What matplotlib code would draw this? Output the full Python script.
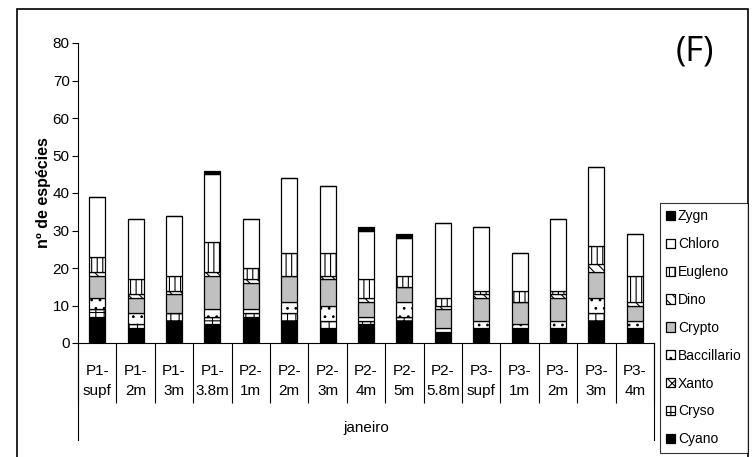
import numpy as np
import matplotlib
matplotlib.use("Agg")
import matplotlib.pyplot as plt
from matplotlib.patches import Rectangle
from matplotlib.transforms import blended_transform_factory

plt.rcParams['font.family'] = ['Liberation Sans Narrow', 'Liberation Sans', 'DejaVu Sans']
plt.rcParams['hatch.linewidth'] = 0.8

stations = ['P1-\nsupf', 'P1-\n2m', 'P1-\n3m', 'P1-\n3.8m', 'P2-\n1m', 'P2-\n2m', 'P2-\n3m',
            'P2-\n4m', 'P2-\n5m', 'P2-\n5.8m', 'P3-\nsupf', 'P3-\n1m', 'P3-\n2m', 'P3-\n3m', 'P3-\n4m']
month = 'janeiro'

# stacked from bottom to top
cyano   = [7, 4, 6, 5, 7, 6, 4, 5, 6, 3, 4, 4, 4, 6, 4]
cryso   = [2, 1, 2, 2, 1, 2, 2, 1, 1, 0, 0, 0, 0, 2, 0]
xanto   = [0, 0, 0, 0, 0, 0, 0, 0, 0, 0, 0, 0, 0, 0, 0]
bacc    = [3, 3, 0, 2, 1, 3, 4, 1, 4, 1, 2, 1, 2, 4, 2]
crypto  = [6, 4, 5, 9, 7, 7, 7, 4, 4, 5, 6, 6, 6, 7, 4]
dino    = [1, 1, 1, 1, 1, 0, 1, 1, 0, 1, 1, 0, 1, 2, 1]
eugleno = [4, 4, 4, 8, 3, 6, 6, 5, 3, 2, 1, 3, 1, 5, 7]
chloro  = [16, 16, 16, 18, 13, 20, 18, 13, 10, 20, 17, 10, 19, 21, 11]
zygn    = [0, 0, 0, 1, 0, 0, 0, 1, 1, 0, 0, 0, 0, 0, 0]

groups = ['Cyano', 'Cryso', 'Xanto', 'Baccillario', 'Crypto', 'Dino', 'Eugleno', 'Chloro', 'Zygn']
values = [cyano, cryso, xanto, bacc, crypto, dino, eugleno, chloro, zygn]
faces = ['black', 'white', 'white', 'white', '#c0c0c0', 'white', 'white', 'white', 'black']
hatches = [None, '++', 'xxx', '..', None, '\\\\\\', '|||', None, None]

fig = plt.figure(figsize=(7.53, 4.57), dpi=100)
ax = fig.add_axes([78/753, 1-343/457, 576/753, 300/457])

x = np.arange(len(stations))
bottom = np.zeros(len(stations))
bars = []
for name, v, fc, h in zip(groups, values, faces, hatches):
    b = ax.bar(x, v, 0.42, bottom=bottom, color=fc, edgecolor='black',
               linewidth=0.9, hatch=h, label=name)
    bars.append(b)
    bottom += np.array(v)

ax.set_xlim(-0.5, len(stations) - 0.5)
ax.set_ylim(0, 80)
ax.set_yticks(range(0, 81, 10))
ax.tick_params(axis='y', length=4, width=0.8, labelsize=11, pad=2)
ax.set_xticks(x, stations)
ax.tick_params(axis='x', which='major', length=0, labelsize=11, pad=15)
for lab in ax.get_xticklabels():
    lab.set_linespacing(1.55)
ax.set_xticks(np.arange(-0.5, len(stations)), minor=True)
ax.tick_params(axis='x', which='minor', length=43, width=0.8)
for s in ['top', 'right']:
    ax.spines[s].set_visible(False)
for s in ['left', 'bottom']:
    ax.spines[s].set_linewidth(0.8)

tr = blended_transform_factory(ax.transData, ax.transAxes)
for xe in [-0.5, len(stations) - 0.5]:
    ax.plot([xe, xe], [0, -0.323], color='black', lw=0.8, transform=tr, clip_on=False)
ax.text(0.5, -0.283, month, transform=ax.transAxes, ha='center', va='center', fontsize=11)

ax.set_ylabel('nº de espécies', fontsize=11.5, fontweight='bold', labelpad=1.5)

leg = fig.legend([b for b in bars[::-1]], groups[::-1], loc='upper right',
                 bbox_to_anchor=(748/753, 1-203/457), frameon=True, fancybox=False,
                 edgecolor='black', fontsize=10, handlelength=0.65, handleheight=0.65,
                 handletextpad=0.2, labelspacing=1.0, borderpad=0.45, borderaxespad=0)
leg.get_frame().set_linewidth(0.8)

fig.text(695/753, 1-52/457, '(F)', ha='center', va='center', fontsize=25,
         family=['Open Sans', 'DejaVu Sans'])

fig.patches.append(Rectangle((17/753, -0.01), 731/753, 1-9/457+0.01, transform=fig.transFigure,
                             fill=False, edgecolor='black', linewidth=1.2))

fig.savefig('out.png', dpi=100)
